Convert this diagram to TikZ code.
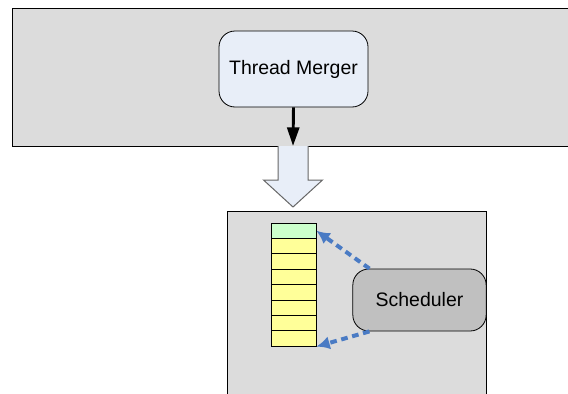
\documentclass[tikz,border=0pt]{standalone}
\usepackage{fontspec}
\setmainfont{Liberation Sans}
\usetikzlibrary{arrows.meta,positioning}
\definecolor{panelgray}{HTML}{DCDCDC}
\definecolor{paleblue}{HTML}{E8EEF8}
\definecolor{schedgray}{HTML}{C0C0C0}
\definecolor{slotgreen}{HTML}{CCFFCC}
\definecolor{slotyellow}{HTML}{FFFF99}
\definecolor{dashblue}{HTML}{4A7BC4}
\tikzset{
  panel/.style={draw, fill=panelgray, line width=0.75pt},
  unit/.style={draw, rounded corners=12pt, line width=0.6pt, align=center, font=\fontsize{14.6}{17}\selectfont},
  slot/.style={draw, fill=slotyellow, minimum width=33.75pt, minimum height=11.55pt, inner sep=0pt, line width=0.6pt},
  feed/.style={-{Latex[length=10pt,width=10pt]}, dashblue, line width=3pt, dash pattern=on 5pt off 3.5pt}
}
\begin{document}
\begin{tikzpicture}[x=0.75pt,y=-0.75pt]
\useasboundingbox (0,0) rectangle (568,393);
% the two panels
\draw [panel] (12,8) rectangle (580,146);
\draw [panel] (227,211) rectangle (486,400);
\coordinate (top) at (293,146);
% thread merger
\node [unit, fill=paleblue, minimum width=111.75pt, minimum height=57pt] (merger) at (293.5,69) {Thread Merger};
\draw [-{Triangle[length=14pt,width=9pt]}, line width=2.2pt] (merger.south) -- (top);
% hollow arrow
\draw [fill=paleblue, draw=black!60, line width=0.75pt]
  (top) ++(-15,0) -- ++(0,34) -- ++(-14.5,0) -- (293,207) -- (322.5,180) -- ++(-14.5,0) -- ++(0,-34);
% queue
\foreach \i in {0,...,7}
  \node [slot] (q\i) at (293.5,230.7+15.4*\i) {};
\node [slot, fill=slotgreen] at (q0) {};
% scheduler
\node [unit, fill=schedgray, minimum width=100pt, minimum height=46.5pt] (sched) at (419.5,300) {Scheduler};
\draw [feed] (sched.north west) ++(17,0) -- (q0.east);
\draw [feed] (sched.south west) ++(17,0) -- (q7.south east);
\end{tikzpicture}
\end{document}
